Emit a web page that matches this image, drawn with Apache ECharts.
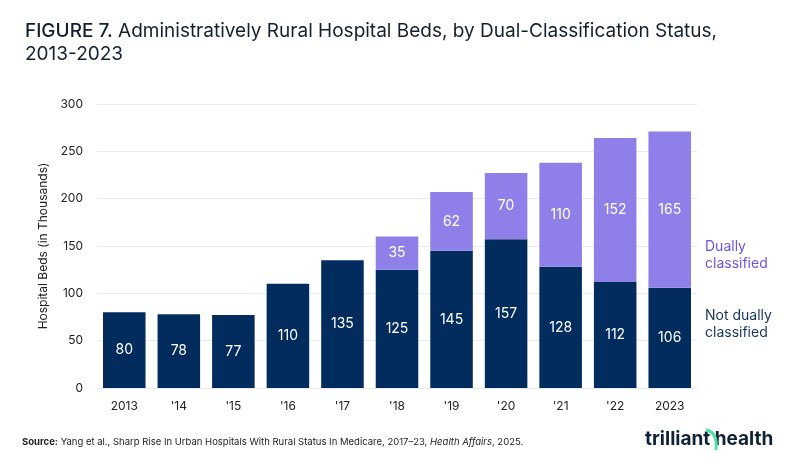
<!DOCTYPE html>
<html>
<head>
<meta charset="utf-8">
<script src="https://cdn.jsdelivr.net/npm/echarts@6/dist/echarts.min.js"></script>
<style>
  html, body { margin: 0; padding: 0; background: #fff; }
  #chart { width: 800px; height: 468px; }
</style>
</head>
<body>
<div id="chart"></div>
<script>
// 年份
const years = ['2013', "'14", "'15", "'16", "'17", "'18", "'19", "'20", "'21", "'22", '2023'];
// 非双重分类
const notDual = [80, 78, 77, 110, 135, 125, 145, 157, 128, 112, 106];
// 双重分类
const dual = [null, null, null, null, null, 35, 62, 70, 110, 152, 165];

const navy = '#022c5e';
const purple = '#8f7fe9';
const font = 'Inter, "Noto Sans", sans-serif';

const chart = echarts.init(document.getElementById('chart'));

chart.setOption({
  backgroundColor: '#fff',
  animation: false,
  textStyle: { fontFamily: font },
  title: {
    text: '{b|FIGURE 7.} Administratively Rural Hospital Beds, by Dual-Classification Status,\n2013-2023',
    left: 20,
    top: 15,
    textStyle: {
      fontFamily: font,
      fontSize: 19,
      fontWeight: 'normal',
      color: '#15202e',
      lineHeight: 23,
      rich: {
        b: { fontFamily: font, fontSize: 19, fontWeight: 500, color: '#15202e', lineHeight: 23 }
      }
    }
  },
  grid: { left: 97, right: 103, top: 104, bottom: 80 },
  xAxis: {
    type: 'category',
    data: years,
    axisLine: { show: false },
    axisTick: { show: false },
    axisLabel: { color: '#222', fontSize: 12, margin: 12 }
  },
  yAxis: {
    type: 'value',
    min: 0,
    max: 300,
    interval: 50,
    name: 'Hospital Beds (in Thousands)',
    nameLocation: 'middle',
    nameGap: 44,
    nameTextStyle: { color: '#222', fontSize: 12 },
    axisLabel: { color: '#222', fontSize: 12, margin: 14 },
    splitLine: { lineStyle: { color: '#ebebeb' } }
  },
  series: [
    {
      name: 'Not dually classified',
      type: 'bar',
      stack: 'beds',
      data: notDual,
      barCategoryGap: '22%',
      itemStyle: { color: navy },
      label: { show: true, position: 'inside', color: '#fff', fontSize: 14 }
    },
    {
      name: 'Dually classified',
      type: 'bar',
      stack: 'beds',
      data: dual,
      itemStyle: { color: purple },
      label: { show: true, position: 'inside', color: '#fff', fontSize: 14 }
    }
  ],
  graphic: [
    {
      type: 'text',
      x: 705,
      y: 238,
      style: { text: 'Dually\nclassified', fill: '#6b55e6', fontSize: 14, lineHeight: 17, fontFamily: font }
    },
    {
      type: 'text',
      x: 705,
      y: 307,
      style: { text: 'Not dually\nclassified', fill: '#17365d', fontSize: 14, lineHeight: 17, fontFamily: font }
    },
    {
      type: 'text',
      x: 22,
      y: 437,
      style: {
        text: '{b|Source:} Yang et al., Sharp Rise In Urban Hospitals With Rural Status In Medicare, 2017–23, {i|Health Affairs}, 2025.',
        fill: '#222',
        fontSize: 9.5,
        fontFamily: font,
        rich: {
          b: { fontWeight: 'bold', fontSize: 9.5, fill: '#222', fontFamily: font },
          i: { fontStyle: 'italic', fontSize: 9.5, fill: '#222', fontFamily: font }
        }
      }
    },
    {
      type: 'text',
      x: 645,
      y: 430,
      style: { text: 'trilliant health', fill: '#0f2237', fontSize: 19, fontWeight: 'bold', fontFamily: font }
    },
    {
      type: 'bezierCurve',
      shape: { x1: 706, y1: 430, cpx1: 718, cpy1: 432, x2: 716, y2: 450 },
      style: { stroke: '#4de3a5', lineWidth: 3, fill: null }
    }
  ]
});
</script>
</body>
</html>
